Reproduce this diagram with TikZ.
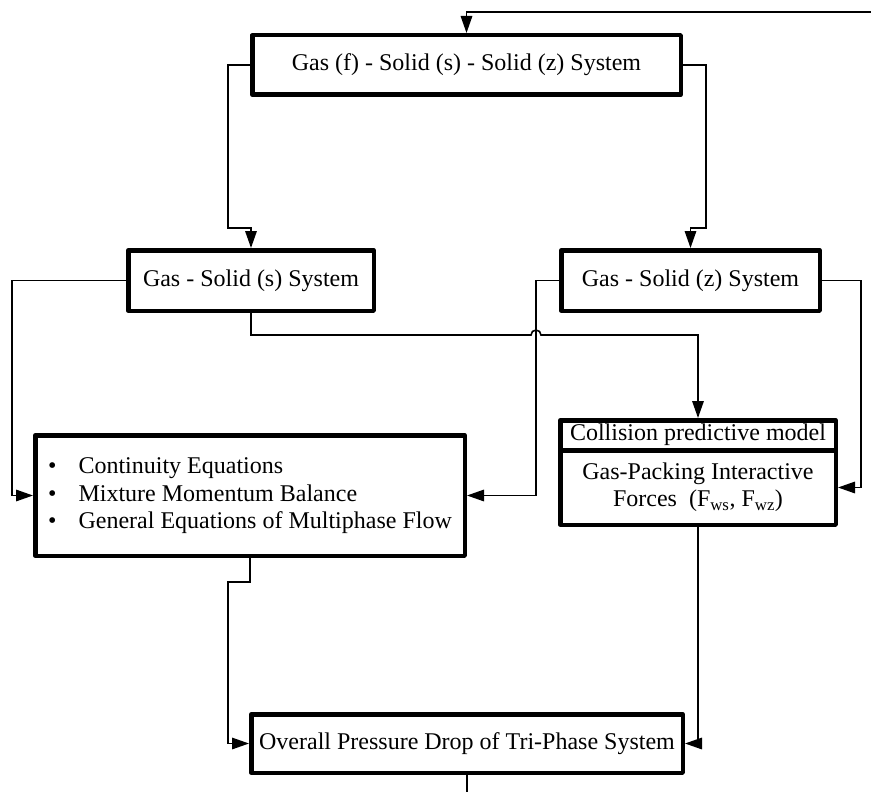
\documentclass[tikz,border=0pt]{standalone}
\usepackage{fontspec}
\setmainfont{Liberation Serif}
\usetikzlibrary{arrows.meta}
\begin{document}
\begin{tikzpicture}[x=1pt,y=-1pt,
  box/.style={draw, line width=4.5pt, line join=round, inner sep=0pt, align=center,
    font=\fontsize{24}{27}\selectfont},
  conn/.style={line width=1.6pt},
  arr/.style={conn, -{Triangle[length=17pt,width=11.5pt]}}]
\useasboundingbox (0,0) rectangle (871,792);

% nodes
\node[box, minimum width=428.5pt, minimum height=59.5pt] (top) at (466.5,65)
  {Gas (f) - Solid (s) - Solid (z) System};
\node[box, minimum width=245.5pt, minimum height=60.5pt] (gs) at (251,280.5)
  {Gas - Solid (s) System};
\node[box, minimum width=258.5pt, minimum height=60.5pt] (gz) at (690.5,280.5)
  {Gas - Solid (z) System};
\node[box, minimum width=429.5pt, minimum height=120.5pt] (big) at (250,495.5)
  {\fontsize{24}{27.5}\selectfont
   \begin{tabular}{@{}l@{\hspace{22pt}}l@{}}
   \textbullet & Continuity Equations\\
   \textbullet & Mixture Momentum Balance\\
   \textbullet & General Equations of Multiphase Flow
   \end{tabular}};
\node[box, minimum width=275.5pt, minimum height=29.5pt] (collhead) at (698,435)
  {Collision predictive model};
\node[box, minimum width=275.5pt, minimum height=74.5pt] (collbody) at (698,487.5)
  {Gas-Packing Interactive\\Forces~~(F\textsubscript{ws}, F\textsubscript{wz})};
\node[box, minimum width=431.5pt, minimum height=58.5pt] (ovr) at (467,743.5)
  {Overall Pressure Drop of Tri-Phase System};

\coordinate (loopin) at (871,12);
\coordinate (loopout) at (467,792);

% connectors
\draw[arr] (loopin) -| (top.north);
\draw[arr] (top.west) -| (228,228) -| (gs.north);
\draw[arr] (top.east) -| (706,228) -| (gz.north);
\draw[arr] (gs.west) -- (12,280.5) |- (big.west);
\draw[arr] (gz.west) -- (536,280.5) |- (big.east);
\draw[arr] (gz.east) -- (861,280.5) |- (collbody.east);
\draw[arr] (gs.south) |- (531,335) arc[start angle=180, end angle=0, radius=5pt] -| (collhead.north);
\draw[arr] (big.south) |- (228,582) |- (ovr.west);
\draw[arr] (collbody.south) |- (ovr.east);
\draw[conn] (ovr.south) -- (loopout);
\end{tikzpicture}
\end{document}
